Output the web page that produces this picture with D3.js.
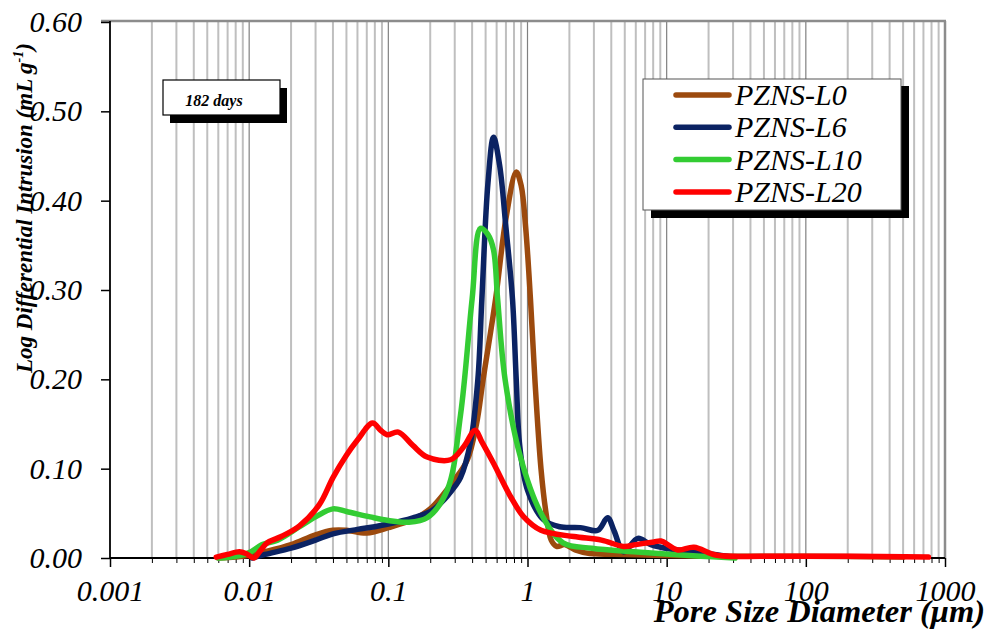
<!DOCTYPE html>
<html>
<head>
<meta charset="utf-8">
<script src="https://cdnjs.cloudflare.com/ajax/libs/d3/7.8.5/d3.min.js"></script>
<style>
  body { margin: 0; background: #fff; }
  text { font-family: "Liberation Serif", "Times New Roman", serif; }
</style>
</head>
<body>
<div id="chart"></div>
<script>
// pore diameter (um) and log differential intrusion (mL/g)
var seriesNames = ["PZNS-L0", "PZNS-L6", "PZNS-L10", "PZNS-L20"];
var seriesColors = ["#9C4A0E", "#0B2363", "#33CC33", "#FF0000"];

var l0 = [[0.006,0],[0.008,0.001],[0.01,0.003],[0.013,0.007],[0.02,0.015],[0.03,0.026],[0.04,0.031],
  [0.05,0.031],[0.07,0.028],[0.1,0.034],[0.15,0.043],[0.2,0.055],[0.3,0.088],[0.37,0.11],[0.43,0.15],
  [0.48,0.2],[0.59,0.29],[0.7,0.38],[0.83,0.432],[0.9,0.417],[0.97,0.37],[1.05,0.29],[1.13,0.2],
  [1.25,0.1],[1.36,0.05],[1.48,0.02],[1.62,0.013],[1.85,0.015],[2.2,0.009],[2.8,0.005],[5,0.004],
  [8,0.003],[20,0.002],[100,0.002],[500,0.001]];
var l6 = [[0.0105,0],[0.013,0.004],[0.02,0.011],[0.03,0.02],[0.04,0.027],[0.06,0.032],[0.08,0.035],
  [0.1,0.038],[0.15,0.045],[0.2,0.052],[0.24,0.062],[0.3,0.08],[0.33,0.09],[0.39,0.13],[0.44,0.2],
  [0.47,0.29],[0.52,0.42],[0.57,0.471],[0.63,0.44],[0.7,0.37],[0.78,0.29],[0.83,0.2],[0.88,0.125],
  [1.0,0.076],[1.3,0.043],[1.7,0.035],[2.4,0.034],[3.2,0.031],[3.76,0.045],[4.2,0.03],[4.9,0.007],
  [6.2,0.022],[7.7,0.015],[10.6,0.01],[17.6,0.006],[24,0.003],[30,0.001]];
var l10 = [[0.006,0],[0.008,0.002],[0.01,0.006],[0.0124,0.015],[0.016,0.02],[0.023,0.035],[0.03,0.046],
  [0.04,0.055],[0.05,0.052],[0.074,0.046],[0.1,0.042],[0.137,0.04],[0.19,0.045],[0.265,0.076],
  [0.33,0.16],[0.4,0.29],[0.46,0.369],[0.52,0.362],[0.57,0.345],[0.61,0.29],[0.69,0.2],[0.89,0.113],
  [1.25,0.05],[1.8,0.017],[2.9,0.011],[5.8,0.007],[17.6,0.002],[31,0]];
var l20 = [[0.0058,0.001],[0.007,0.004],[0.0085,0.007],[0.0095,0.005],[0.0108,0],[0.012,0.008],
  [0.0135,0.017],[0.017,0.024],[0.023,0.036],[0.032,0.06],[0.04,0.09],[0.05,0.115],[0.06,0.132],
  [0.077,0.151],[0.088,0.143],[0.098,0.138],[0.118,0.141],[0.15,0.126],[0.19,0.113],[0.28,0.11],
  [0.35,0.125],[0.42,0.143],[0.47,0.13],[0.57,0.106],[0.76,0.068],[0.94,0.046],[1.25,0.031],
  [2.15,0.024],[3.4,0.02],[4.9,0.013],[6,0.015],[8.1,0.018],[9.1,0.019],[12,0.009],[15.7,0.012],
  [23,0.003],[50,0.002],[200,0.002],[760,0.001]];
var seriesData = [l0, l6, l10, l20];

var xTickValues = [0.001, 0.01, 0.1, 1, 10, 100, 1000];
var xTickLabels = ["0.001", "0.01", "0.1", "1", "10", "100", "1000"];
var yTickValues = [0, 0.1, 0.2, 0.3, 0.4, 0.5, 0.6];
var annotation = "182 days";

var width = 990, height = 634;
var plotLeft = 110, plotRight = 945, plotTop = 22, plotBottom = 558;

var svg = d3.select("#chart").append("svg")
  .attr("width", width)
  .attr("height", height);

var x = d3.scaleLog().domain([0.001, 1000]).range([plotLeft, plotRight]);
var y = d3.scaleLinear().domain([0, 0.6]).range([plotBottom, plotTop]);

// minor and major vertical grid lines
var minorVals = [];
for (var e = -3; e < 3; e++) {
  for (var m = 2; m <= 9; m++) minorVals.push(m * Math.pow(10, e));
}
svg.append("g").selectAll("line").data(minorVals).enter().append("line")
  .attr("x1", function(d) { return x(d); })
  .attr("x2", function(d) { return x(d); })
  .attr("y1", plotTop).attr("y2", plotBottom)
  .attr("stroke", "#BFBFBF").attr("stroke-width", 2);
svg.append("g").selectAll("line").data(xTickValues.slice(1, -1)).enter().append("line")
  .attr("x1", function(d) { return x(d); })
  .attr("x2", function(d) { return x(d); })
  .attr("y1", plotTop).attr("y2", plotBottom)
  .attr("stroke", "#808080").attr("stroke-width", 1.2);

// top and right frame
svg.append("line").attr("x1", plotLeft - 9).attr("x2", plotRight + 1)
  .attr("y1", plotTop - 1).attr("y2", plotTop - 1)
  .attr("stroke", "#8C8C8C").attr("stroke-width", 2.5);
svg.append("line").attr("x1", plotRight).attr("x2", plotRight)
  .attr("y1", plotTop - 1).attr("y2", plotBottom)
  .attr("stroke", "#8C8C8C").attr("stroke-width", 2.5);

// axes
var xAxisMinor = d3.axisBottom(x).tickValues(minorVals).tickSize(5).tickFormat("");
var xAxis = d3.axisBottom(x).tickValues(xTickValues).tickSize(9).tickPadding(13)
  .tickFormat(function(d, i) { return xTickLabels[i]; });
var yAxis = d3.axisLeft(y).tickValues(yTickValues).tickSize(9).tickPadding(19)
  .tickFormat(d3.format(".2f"));

var gxm = svg.append("g").attr("transform", "translate(0," + plotBottom + ")").call(xAxisMinor);
gxm.select(".domain").remove();
gxm.selectAll("line").attr("stroke", "#000").attr("stroke-width", 1);

var gx = svg.append("g").attr("transform", "translate(0," + plotBottom + ")").call(xAxis);
gx.select(".domain").remove();
gx.selectAll("line").attr("stroke", "#000").attr("stroke-width", 1.5);
gx.selectAll("text").attr("font-size", 30).attr("font-style", "italic")
  .attr("fill", "#000").style("font-family", "Liberation Serif");

var gy = svg.append("g").attr("transform", "translate(" + plotLeft + ",0)").call(yAxis);
gy.select(".domain").remove();
gy.selectAll("line").attr("stroke", "#000").attr("stroke-width", 1.5);
gy.selectAll("text").attr("font-size", 30).attr("font-style", "italic")
  .attr("fill", "#000").attr("dy", "0.32em").style("font-family", "Liberation Serif");

svg.append("line").attr("x1", plotLeft).attr("x2", plotRight)
  .attr("y1", plotBottom).attr("y2", plotBottom)
  .attr("stroke", "#000").attr("stroke-width", 1.8);
svg.append("line").attr("x1", plotLeft).attr("x2", plotLeft)
  .attr("y1", plotTop - 1).attr("y2", plotBottom)
  .attr("stroke", "#000").attr("stroke-width", 1.8);

// curves
var line = d3.line()
  .x(function(d) { return x(d[0]); })
  .y(function(d) { return y(d[1]); })
  .curve(d3.curveCatmullRom.alpha(0.5));

svg.append("g").selectAll("path").data(seriesData).enter().append("path")
  .attr("d", line)
  .attr("fill", "none")
  .attr("stroke", function(d, i) { return seriesColors[i]; })
  .attr("stroke-width", 5.5)
  .attr("stroke-linejoin", "round")
  .attr("stroke-linecap", "round");

// annotation box
svg.append("rect").attr("x", 170).attr("y", 88).attr("width", 117).attr("height", 35).attr("fill", "#000");
svg.append("rect").attr("x", 163).attr("y", 80).attr("width", 117).attr("height", 35)
  .attr("fill", "#fff").attr("stroke", "#000").attr("stroke-width", 1.2);
svg.append("text").attr("x", 214).attr("y", 106)
  .attr("text-anchor", "middle")
  .attr("font-size", 16).attr("font-weight", "bold").attr("font-style", "italic")
  .text(annotation);

// legend
var legend = svg.append("g");
legend.append("rect").attr("x", 651).attr("y", 86).attr("width", 258).attr("height", 132).attr("fill", "#000");
legend.append("rect").attr("x", 643).attr("y", 79).attr("width", 258).attr("height", 131)
  .attr("fill", "#fff").attr("stroke", "#555").attr("stroke-width", 1);
var items = legend.selectAll("g.item").data(seriesNames).enter().append("g")
  .attr("transform", function(d, i) { return "translate(0," + (95 + i * 32.3) + ")"; });
items.append("line").attr("x1", 676).attr("x2", 729).attr("y1", 0).attr("y2", 0)
  .attr("stroke", function(d, i) { return seriesColors[i]; })
  .attr("stroke-width", 5.5).attr("stroke-linecap", "round");
items.append("text").attr("x", 735).attr("y", 10)
  .attr("font-size", 30).attr("font-style", "italic")
  .text(function(d) { return d; });

// axis titles
svg.append("text").attr("x", 985).attr("y", 622)
  .attr("text-anchor", "end")
  .attr("font-size", 32.5).attr("font-weight", "bold").attr("font-style", "italic")
  .text("Pore Size Diameter (\u03bcm)");

var yt = svg.append("text")
  .attr("transform", "translate(32,208) rotate(-90)")
  .attr("text-anchor", "middle")
  .attr("font-size", 23).attr("font-weight", "bold").attr("font-style", "italic");
yt.append("tspan").text("Log Differential Intrusion (mL g");
yt.append("tspan").attr("font-size", 14).attr("dy", -9).text("-1");
yt.append("tspan").attr("dy", 9).text(")");
</script>
</body>
</html>
